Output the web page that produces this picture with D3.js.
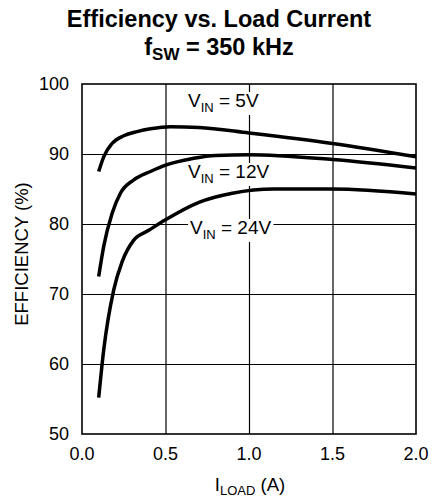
<!DOCTYPE html>
<html>
<head>
<meta charset="utf-8">
<script src="https://d3js.org/d3.v7.min.js"></script>
<style>
body { margin: 0; background: #fff; }
text { font-family: "Liberation Sans", Arial, sans-serif; fill: #000; }
</style>
</head>
<body>
<script>
// load current (A) and efficiency (%)
const load5 = [0.10, 0.13, 0.18, 0.25, 0.33, 0.41, 0.53, 0.70, 1.00, 1.50, 2.00];
const eff5  = [87.5, 89.6, 91.5, 92.6, 93.2, 93.6, 93.9, 93.8, 93.0, 91.5, 89.6];

const load12 = [0.10, 0.13, 0.18, 0.23, 0.31, 0.41, 0.50, 0.67, 0.80, 1.00, 1.50, 2.00];
const eff12  = [72.5, 76.8, 81.5, 84.4, 86.3, 87.5, 88.4, 89.4, 89.8, 89.9, 89.2, 88.0];

const load24 = [0.10, 0.13, 0.19, 0.24, 0.31, 0.40, 0.50, 0.70, 0.90, 1.15, 1.50, 2.00];
const eff24  = [55.2, 62.0, 70.6, 74.6, 77.7, 79.1, 80.6, 83.1, 84.4, 85.0, 85.0, 84.3];

const xTicks = [0.0, 0.5, 1.0, 1.5, 2.0];
const yTicks = [50, 60, 70, 80, 90, 100];

const series = [
  {name: "5V",  x: load5,  y: eff5},
  {name: "12V", x: load12, y: eff12},
  {name: "24V", x: load24, y: eff24}
];

const width = 432, height = 499;
const pLeft = 82, pRight = 416, pTop = 84, pBottom = 434;

const svg = d3.select("body").append("svg")
    .attr("width", width)
    .attr("height", height);

const xScale = d3.scaleLinear().domain([0, 2]).range([pLeft, pRight]);
const yScale = d3.scaleLinear().domain([50, 100]).range([pBottom, pTop]);

// title
svg.append("text")
    .attr("x", 219).attr("y", 27)
    .attr("text-anchor", "middle")
    .attr("font-size", 23.5).attr("font-weight", "bold")
    .text("Efficiency vs. Load Current");
const t2 = svg.append("text")
    .attr("x", 219).attr("y", 55)
    .attr("text-anchor", "middle")
    .attr("font-size", 23.5).attr("font-weight", "bold");
t2.append("tspan").text("f");
t2.append("tspan").attr("font-size", 17).attr("dy", 5).text("SW");
t2.append("tspan").attr("dy", -5).text(" = 350 kHz");

// grid
svg.append("g")
    .attr("transform", `translate(0,${pBottom})`)
    .call(d3.axisBottom(xScale).tickValues(xTicks.slice(1, -1)).tickSize(-(pBottom - pTop)).tickFormat(""))
    .call(g => g.select(".domain").remove())
    .selectAll("line").attr("stroke", "#000").attr("stroke-width", 1.2);
svg.append("g")
    .attr("transform", `translate(${pLeft},0)`)
    .call(d3.axisLeft(yScale).tickValues(yTicks.slice(1, -1)).tickSize(-(pRight - pLeft)).tickFormat(""))
    .call(g => g.select(".domain").remove())
    .selectAll("line").attr("stroke", "#000").attr("stroke-width", 1.2);

// tick labels
svg.selectAll("text.xt")
    .data(xTicks).enter().append("text")
    .attr("class", "xt")
    .attr("x", d => xScale(d)).attr("y", pBottom + 26)
    .attr("text-anchor", "middle")
    .attr("font-size", 18)
    .text(d => d.toFixed(1));
svg.selectAll("text.yt")
    .data(yTicks).enter().append("text")
    .attr("class", "yt")
    .attr("x", pLeft - 13).attr("y", d => yScale(d) + 6)
    .attr("text-anchor", "end")
    .attr("font-size", 18)
    .text(d => d);

// axis titles
const xl = svg.append("text")
    .attr("x", 250).attr("y", 491)
    .attr("text-anchor", "middle")
    .attr("font-size", 18.5);
xl.append("tspan").text("I");
xl.append("tspan").attr("font-size", 13).attr("dy", 4).text("LOAD");
xl.append("tspan").attr("dy", -4).text(" (A)");

svg.append("text")
    .attr("transform", `translate(28,254) rotate(-90)`)
    .attr("text-anchor", "middle")
    .attr("font-size", 18.5)
    .text("EFFICIENCY (%)");

// curve labels with white backing
const labels = [
  {name: "5V",  x: 188, y: 107},
  {name: "12V", x: 188, y: 178},
  {name: "24V", x: 190, y: 234}
];
labels.forEach(l => {
  const g = svg.append("g");
  const t = g.append("text")
      .attr("x", l.x).attr("y", l.y)
      .attr("font-size", 19);
  t.append("tspan").text("V");
  t.append("tspan").attr("font-size", 13).attr("dy", 5).text("IN");
  t.append("tspan").attr("dy", -5).text(" = " + l.name);
  const b = t.node().getBBox();
  g.insert("rect", "text")
      .attr("x", b.x - 2).attr("y", b.y + 2)
      .attr("width", b.width + 4).attr("height", b.height - 2)
      .attr("fill", "#fff");
});

// curves
const line = d3.line()
    .x(d => xScale(d[0]))
    .y(d => yScale(d[1]))
    .curve(d3.curveMonotoneX);
svg.selectAll("path.curve")
    .data(series).enter().append("path")
    .attr("class", "curve")
    .attr("d", s => line(s.x.map((v, i) => [v, s.y[i]])))
    .attr("fill", "none")
    .attr("stroke", "#000")
    .attr("stroke-width", 3.5);

// frame
svg.append("rect")
    .attr("x", pLeft).attr("y", pTop)
    .attr("width", pRight - pLeft).attr("height", pBottom - pTop)
    .attr("fill", "none")
    .attr("stroke", "#000")
    .attr("stroke-width", 1.6);
</script>
</body>
</html>
